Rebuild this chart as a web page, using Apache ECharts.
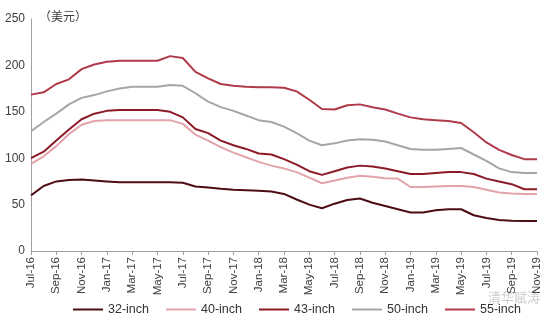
<!DOCTYPE html>
<html>
<head>
<meta charset="utf-8">
<script src="https://cdn.jsdelivr.net/npm/echarts@6/dist/echarts.min.js"></script>
<style>
html,body{margin:0;padding:0;background:#fff;}
#c{width:550px;height:325px;}
</style>
</head>
<body>
<div id="c"></div>
<script>
var months = ['Jul-16','Aug-16','Sep-16','Oct-16','Nov-16','Dec-16','Jan-17','Feb-17','Mar-17','Apr-17','May-17','Jun-17',
  'Jul-17','Aug-17','Sep-17','Oct-17','Nov-17','Dec-17','Jan-18','Feb-18','Mar-18','Apr-18','May-18','Jun-18',
  'Jul-18','Aug-18','Sep-18','Oct-18','Nov-18','Dec-18','Jan-19','Feb-19','Mar-19','Apr-19','May-19','Jun-19',
  'Jul-19','Aug-19','Sep-19','Oct-19','Nov-19'];
var s32 = [60,70,75,76.5,77,76,75,74,74,74,74,74,73.5,69.5,68.5,67,66,65.5,65,64,61.5,55.5,50,46,51,55,56.5,52,48.5,45,41.5,41.5,44,45,45,38.5,35.5,33.5,32.5,32.3,32.3];
var s40 = [94,102,113,126,136,140,141,141,141,141,141,141,137,125.5,119,112,106,101,96,92,89,85,79,73,76,79,81,80,78.5,78,69,69,69.5,70,70,69,66,63,62,61.5,61.5];
var s43 = [100,107,119,131,142,148,151,152,152,152,152,150,144,131.5,127,119,114,110,105,104,99,93,86,82,86,90,92,91,89,86,83,83,84,85,85,83,78,75,72,66.5,66.5];
var s50 = [129,139,148,158,165,168,172,175,177,177,177,179,178,170,161,155,151,146,141,139,134,127,119,114,116,119,120.5,120,118,114,110,109,109,110,111,104,97,89,85,84,84];
var s55 = [168.5,171,180,185,196,201,204,205,205,205,205,210,208,193,186,180,178,177,176.5,176.5,176,172,163,153,152.5,157,158,155,152.5,148,144,142,141,140,138,128,117,109,103.5,99,99];
var names = ['32-inch','40-inch','43-inch','50-inch','55-inch'];
var colors = ['#4e0c15','#e2a4aa','#8c1a27','#a6a6a6','#b03a49'];
var yTicks = [0,50,100,150,200,250];

var data = [s32,s40,s43,s50,s55];
var chart = echarts.init(document.getElementById('c'), null, {renderer:'canvas'});
var font = 'Liberation Sans, Arial, sans-serif';
chart.setOption({
  animation:false,
  backgroundColor:'#fff',
  textStyle:{fontFamily:font},
  grid:{left:31,right:13,top:19,bottom:74,containLabel:false},
  title:{text:'（美元）',left:34,top:5,textStyle:{fontSize:12,fontWeight:'normal',color:'#404040',fontFamily:'Noto Sans CJK SC'}},
  graphic:[{type:'text',left:488,top:291,style:{text:'清华赋涛',fill:'#cccccc',font:'13px "Noto Sans CJK SC"'}}],
  legend:{bottom:4,left:68,itemWidth:30,itemHeight:2,itemGap:17,icon:'rect',
    textStyle:{fontSize:12.5,color:'#333',fontFamily:font},data:names},
  xAxis:{type:'category',boundaryGap:false,data:months,
    axisLine:{lineStyle:{color:'#a0a0a0'}},
    axisTick:{alignWithLabel:true,interval:1,length:4,lineStyle:{color:'#a0a0a0'}},
    axisLabel:{interval:1,rotate:90,fontSize:11.5,color:'#404040',margin:6,fontFamily:font},
    splitLine:{show:false}},
  yAxis:{type:'value',min:yTicks[0],max:yTicks[yTicks.length-1],interval:50,
    axisLine:{show:true,lineStyle:{color:'#a0a0a0'}},axisTick:{show:false},
    axisLabel:{fontSize:12,color:'#404040',margin:6,fontFamily:font},
    splitLine:{show:false}},
  series:names.map(function(n,i){return {name:n,type:'line',data:data[i],symbol:'none',
    lineStyle:{width:2,color:colors[i]},itemStyle:{color:colors[i]}};})
});
</script>
</body>
</html>
